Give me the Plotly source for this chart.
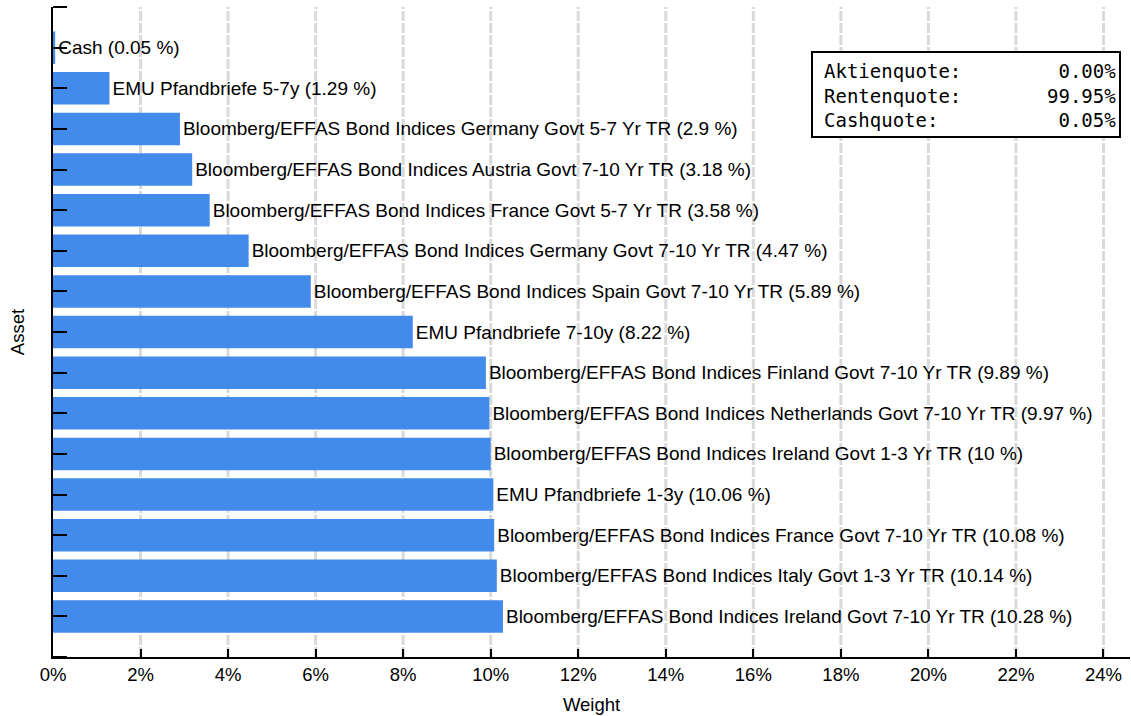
import plotly.graph_objects as go

assets = [
    "Cash",
    "EMU Pfandbriefe 5-7y",
    "Bloomberg/EFFAS Bond Indices Germany Govt 5-7 Yr TR",
    "Bloomberg/EFFAS Bond Indices Austria Govt 7-10 Yr TR",
    "Bloomberg/EFFAS Bond Indices France Govt 5-7 Yr TR",
    "Bloomberg/EFFAS Bond Indices Germany Govt 7-10 Yr TR",
    "Bloomberg/EFFAS Bond Indices Spain Govt 7-10 Yr TR",
    "EMU Pfandbriefe 7-10y",
    "Bloomberg/EFFAS Bond Indices Finland Govt 7-10 Yr TR",
    "Bloomberg/EFFAS Bond Indices Netherlands Govt 7-10 Yr TR",
    "Bloomberg/EFFAS Bond Indices Ireland Govt 1-3 Yr TR",
    "EMU Pfandbriefe 1-3y",
    "Bloomberg/EFFAS Bond Indices France Govt 7-10 Yr TR",
    "Bloomberg/EFFAS Bond Indices Italy Govt 1-3 Yr TR",
    "Bloomberg/EFFAS Bond Indices Ireland Govt 7-10 Yr TR",
]
weights = [0.05, 1.29, 2.9, 3.18, 3.58, 4.47, 5.89, 8.22, 9.89, 9.97, 10, 10.06, 10.08, 10.14, 10.28]
weight_labels = ["0.05", "1.29", "2.9", "3.18", "3.58", "4.47", "5.89", "8.22", "9.89", "9.97", "10", "10.06", "10.08", "10.14", "10.28"]

quote_names = ["Aktienquote:", "Rentenquote:", "Cashquote:"]
quote_values = ["0.00%", "99.95%", "0.05%"]

x_ticks = list(range(0, 25, 2))
x_tick_text = [f"{v}%" for v in x_ticks]

W, H = 1131, 716
L, R, T, B = 53, 1, 7, 59
pw, ph = W - L - R, H - T - B

def px_x(p):
    return (p - L) / pw

def px_y(p):
    return (H - B - p) / ph

fig = go.Figure()
fig.add_trace(go.Bar(
    x=weights,
    y=assets,
    orientation="h",
    marker=dict(color="#428BEA", line=dict(width=0)),
    width=0.8,
    text=[f"{a} ({w} %)" for a, w in zip(assets, weight_labels)],
    textposition="outside",
    constraintext="none",
    textfont=dict(family="Liberation Sans, Arial, sans-serif", size=19, color="black"),
    cliponaxis=False,
    hoverinfo="skip",
))

# vertical dashed gridlines
for v in x_ticks[1:]:
    fig.add_shape(type="line", xref="x", yref="paper", x0=v, x1=v, y0=0, y1=1,
                  line=dict(color="#d9d9d9", width=3, dash="10px,2px"), layer="below")

# end ticks on y axis
for yy in [0, 1]:
    fig.add_shape(type="line", xref="paper", yref="paper", x0=0, x1=14 / pw, y0=yy, y1=yy,
                  line=dict(color="black", width=2))

# info box
fig.add_shape(type="rect", xref="paper", yref="paper",
              x0=px_x(812), x1=px_x(1120), y0=px_y(137), y1=px_y(52),
              line=dict(color="black", width=2), fillcolor="white", layer="above")
fig.add_annotation(xref="paper", yref="paper", x=px_x(822), y=px_y(95),
                   xanchor="left", yanchor="middle", align="left", showarrow=False,
                   text="<br>".join(quote_names),
                   font=dict(family="DejaVu Sans Mono, monospace", size=19, color="black"))
fig.add_annotation(xref="paper", yref="paper", x=px_x(1118), y=px_y(95),
                   xanchor="right", yanchor="middle", align="right", showarrow=False,
                   text="<br>".join(quote_values),
                   font=dict(family="DejaVu Sans Mono, monospace", size=19, color="black"))

fig.update_layout(
    width=W, height=H,
    margin=dict(l=L, r=R, t=T, b=B, pad=0, autoexpand=False),
    plot_bgcolor="white", paper_bgcolor="white",
    showlegend=False,
    bargap=0.2,
    font=dict(family="Liberation Sans, Arial, sans-serif", size=18.5, color="black"),
    xaxis=dict(
        range=[0, pw / 43.77],
        tickvals=x_ticks, ticktext=x_tick_text,
        ticks="inside", ticklen=8, tickwidth=2, tickcolor="black",
        showline=True, linecolor="black", linewidth=2,
        showgrid=False, zeroline=False, automargin=False,
        tickfont=dict(size=18.5),
        title=dict(text="Weight", font=dict(size=18.5), standoff=14),
    ),
    yaxis=dict(
        categoryorder="array", categoryarray=assets,
        range=[len(assets), -1],
        showticklabels=False,
        ticks="inside", ticklen=14, tickwidth=2, tickcolor="black",
        showline=True, linecolor="black", linewidth=2,
        showgrid=False, zeroline=False, automargin=False,
        title=dict(text="Asset", font=dict(size=18.5), standoff=22),
    ),
)

fig.write_html("out.html", config={"displayModeBar": False},
               post_script="document.body.style.margin='0';")
